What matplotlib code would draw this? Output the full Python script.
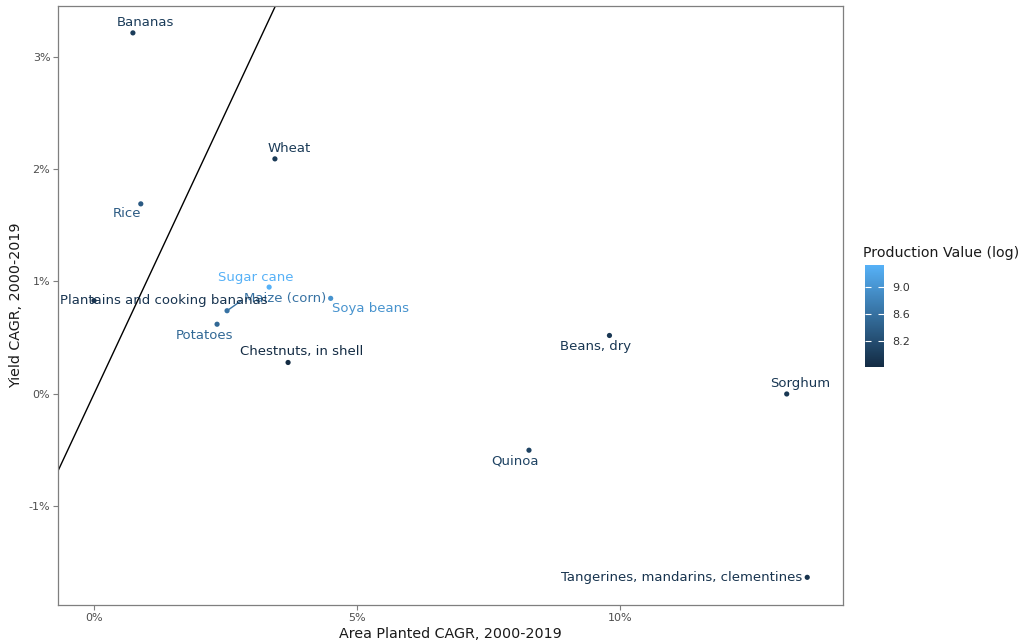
import matplotlib
matplotlib.use("Agg")
import matplotlib.pyplot as plt
from matplotlib.colors import LinearSegmentedColormap, Normalize
from matplotlib.ticker import FuncFormatter, FixedLocator

# Crop growth data (percent per year, 2000-2019)
crops = ["Bananas", "Wheat", "Rice", "Sugar cane", "Maize (corn)", "Soya beans",
         "Plantains and cooking bananas", "Potatoes", "Chestnuts, in shell",
         "Beans, dry", "Sorghum", "Quinoa", "Tangerines, mandarins, clementines"]
area_cagr = [0.74, 3.44, 0.89, 3.33, 2.53, 4.50, 0.00, 2.34, 3.69, 9.80, 13.17, 8.27, 13.56]
yield_cagr = [3.21, 2.09, 1.69, 0.95, 0.74, 0.85, 0.83, 0.62, 0.28, 0.52, 0.00, -0.50, -1.63]
prod_log = [8.00, 7.98, 8.35, 9.33, 8.62, 8.98, 7.92, 8.50, 7.81, 7.95, 7.95, 8.08, 7.90]

x_ticks = [0, 5, 10]
y_ticks = [-1, 0, 1, 2, 3]
cbar_ticks = [8.2, 8.6, 9.0]

# Label placement (offsets in pixels from each point, horizontal alignment)
label_offsets = {
    "Bananas": (13, 10, "center"),
    "Wheat": (14, 10, "center"),
    "Rice": (-14, -10, "center"),
    "Sugar cane": (-13, 10, "center"),
    "Maize (corn)": (17, 12, "left"),
    "Soya beans": (40, -10, "center"),
    "Plantains and cooking bananas": (70, 0, "center"),
    "Potatoes": (-13, -11, "center"),
    "Chestnuts, in shell": (14, 11, "center"),
    "Beans, dry": (-14, -11, "center"),
    "Sorghum": (13, 10, "center"),
    "Quinoa": (-14, -11, "center"),
    "Tangerines, mandarins, clementines": (-5, 0, "right"),
}

W, H = 1023, 641
fig = plt.figure(figsize=(W / 100, H / 100), dpi=100)
ax = fig.add_axes([58 / W, 1 - 605 / H, (843 - 58) / W, (605 - 6) / H])

cmap = LinearSegmentedColormap.from_list("prod", ["#132B43", "#56B1F7"])
norm = Normalize(vmin=min(prod_log), vmax=max(prod_log))

ax.axline((0, 0), slope=1, color="black", lw=1.0, zorder=1)

sc = ax.scatter(area_cagr, yield_cagr, c=prod_log, cmap=cmap, norm=norm,
                s=14, zorder=3, linewidths=0)

for name, xv, yv, pv in zip(crops, area_cagr, yield_cagr, prod_log):
    dx, dy, ha = label_offsets[name]
    col = cmap(norm(pv))
    if name == "Maize (corn)":
        ax.annotate(name, (xv, yv), xytext=(dx, dy), textcoords="offset pixels",
                    ha=ha, va="center", fontsize=9.5, color=col, zorder=4,
                    arrowprops=dict(arrowstyle="-", color=col, lw=1.0,
                                    relpos=(0, 0.5), shrinkA=0, shrinkB=1))
    else:
        ax.annotate(name, (xv, yv), xytext=(dx, dy), textcoords="offset pixels",
                    ha=ha, va="center", fontsize=9.5, color=col, zorder=4)

ax.set_xlim(-0.684, 14.24)
ax.set_ylim(-1.876, 3.449)
ax.xaxis.set_major_locator(FixedLocator(x_ticks))
ax.yaxis.set_major_locator(FixedLocator(y_ticks))
pct = FuncFormatter(lambda v, pos: f"{v:.0f}%")
ax.xaxis.set_major_formatter(pct)
ax.yaxis.set_major_formatter(pct)
ax.tick_params(axis="both", length=3.5, width=0.8, color="#7F7F7F",
               labelsize=8, labelcolor="#4D4D4D", pad=2)
for sp in ax.spines.values():
    sp.set_color("#7F7F7F")
    sp.set_linewidth(0.9)

ax.set_xlabel("Area Planted CAGR, 2000-2019", fontsize=10.3, color="#1A1A1A", labelpad=3)
ax.set_ylabel("Yield CAGR, 2000-2019", fontsize=10.3, color="#1A1A1A", labelpad=4)

# Colour bar legend
cax = fig.add_axes([865 / W, 1 - 367 / H, 19 / W, 102 / H])
cb = fig.colorbar(sc, cax=cax)
cb.outline.set_visible(False)
cb.set_ticks(cbar_ticks)
cb.set_ticklabels([f"{t:.1f}" for t in cbar_ticks])
cax.yaxis.set_ticks_position("both")
cax.tick_params(axis="y", direction="in", length=4, width=0.8, color="white",
                labelsize=8, labelcolor="#333333", pad=6, labelright=True, labelleft=False)
fig.text(863 / W, 1 - 253 / H, "Production Value (log)", fontsize=10.2,
         color="#1A1A1A", ha="left", va="center")

fig.savefig("out.png", dpi=100)
